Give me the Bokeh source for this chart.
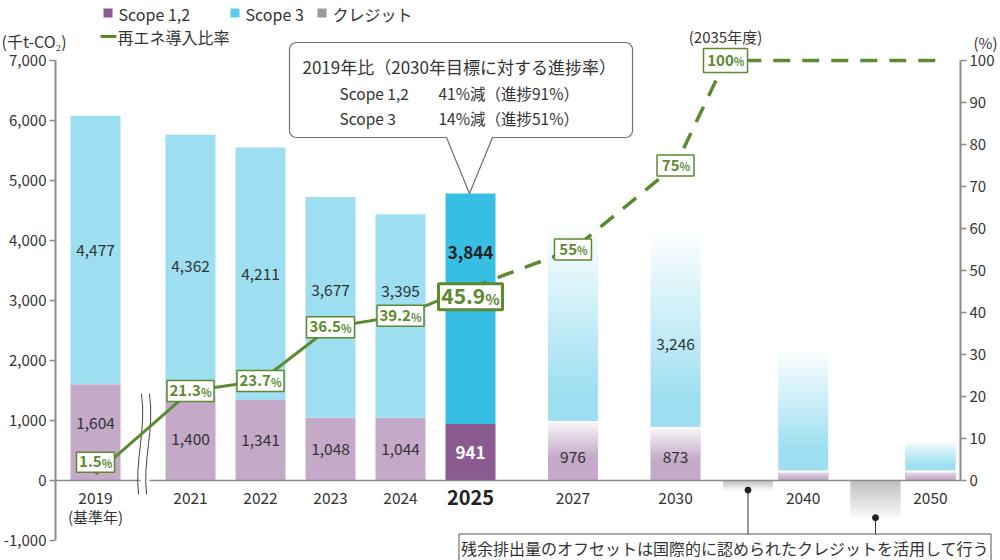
import math
from bokeh.plotting import figure
from bokeh.models import Range1d, LinearAxis, FixedTicker, NumeralTickFormatter, Label
from bokeh.core.properties import value
from bokeh.embed import file_html
from bokeh.resources import INLINE

FONT = "Noto Sans CJK JP"
TXT = "#333333"
GREEN = "#5b8a31"

# ---------------- data ----------------
years = ["2019", "2021", "2022", "2023", "2024", "2025", "2027", "2030", "2040", "2050"]
year_labels = ["2019", "2021", "2022", "2023", "2024", "2025", "2027", "2030", "2040", "2050"]
scope12 = [1604, 1400, 1341, 1048, 1044, 941, 976, 873, 150, 150]
scope3 = [4477, 4362, 4211, 3677, 3395, 3844, 3245, 3246, 1990, 450]
scope12_text = ["1,604", "1,400", "1,341", "1,048", "1,044", "941", "976", "873", "", ""]
scope3_text = ["4,477", "4,362", "4,211", "3,677", "3,395", "3,844", "", "3,246", "", ""]
projected = [False, False, False, False, False, False, True, True, True, True]

credit_slots = ["2030-2040", "2040-2050"]
credit = [-160, -620]

re_points = ["2019", "2021", "2022", "2023", "2024", "2025", "2027", "2030", "2035", "end"]
re_ratio = [1.5, 21.3, 23.7, 36.5, 39.2, 45.9, 55, 75, 100, 100]
re_text = ["1.5", "21.3", "23.7", "36.5", "39.2", "45.9", "55", "75", "100"]

left_ticks = [-1000, 0, 1000, 2000, 3000, 4000, 5000, 6000, 7000]
right_ticks = [0, 10, 20, 30, 40, 50, 60, 70, 80, 90, 100]

legend_items = ["Scope 1,2", "Scope 3", "クレジット"]
legend_colors = ["#8b5b93", "#5ccbea", "#9a9a9a"]
line_legend = "再エネ導入比率"
unit_left = "(千t-CO₂)"
unit_right = "(%)"
base_year_note = "(基準年)"
year_2035_note = "(2035年度)"
callout_title = "2019年比（2030年目標に対する進捗率）"
callout_rows = [["Scope 1,2", "41%減（進捗91%）"], ["Scope 3", "14%減（進捗51%）"]]
credit_note = "残余排出量のオフセットは国際的に認められたクレジットを活用して行う"

# ---------------- layout (picture pixel geometry) ----------------
def PX(px):
    return 6 + (px - 470) / 70.0

def PY(py):
    return (480 - py) / 0.06

def PP(py):
    return (480 - py) / 4.2

DX = 1 / 70.0
DY = 1 / 0.06
DP = 1 / 4.2

slot = {"2019": 0.643, "2021": 2, "2022": 3, "2023": 4, "2024": 5, "2025": 6,
        "2027": 7.464, "2030": 8.929, "2040": 10.753, "2050": 12.571,
        "2035": 9.643, "end": 12.714, "2030-2040": 9.964, "2040-2050": 11.786}
BW = 50 * DX

s12_color = ["#c4a9c8"] * 5 + ["#8a5a91"] + ["#c4a9c8"] * 4
s3_color = ["#9ddff0"] * 5 + ["#36bfe3"] + ["#9ddff0"] * 4
s3_ramp = {6: (0.85, 0.03), 7: (0.85, 0.03), 8: (0.8, 0.05), 9: (0.75, 0.2)}
s12_ramp = {6: (0.6, 0.12), 7: (0.6, 0.12), 8: (0.85, 0.4), 9: (0.85, 0.4)}
s3_dy = [0, 0, 0, -17, -25, -56, 0, 13, 0, 0]
s12_dy = [-9, 0, 0, 0, 0, 0, 6, 3, 0, 0]
box_w = [38, 47, 47, 48, 47, 64, 37, 37, 44]
box_h = [20, 21, 21, 21, 21, 26, 21, 21, 24]
box_dy = [-12, 0, 0, 0, 0, 9, 0, 0, 0]


def mix(hexc, a):
    h = hexc.lstrip("#")
    r, g, b = int(h[0:2], 16), int(h[2:4], 16), int(h[4:6], 16)
    return "#%02x%02x%02x" % (round(255 + (r - 255) * a), round(255 + (g - 255) * a), round(255 + (b - 255) * a))


def fade(xc, b, t, color, ramp, a0, down=False, n=48):
    L, R, B, T, C = [], [], [], [], []
    h = t - b
    eps = 0.6 * DY
    if not down:
        st = t - ramp * h
        L.append(xc - BW / 2); R.append(xc + BW / 2); B.append(b); T.append(st + eps); C.append(color)
        for i in range(n):
            y0 = st + (t - st) * i / n
            y1 = st + (t - st) * (i + 1) / n
            a = 1 - (1 - a0) * (i + 0.5) / n
            L.append(xc - BW / 2); R.append(xc + BW / 2); B.append(y0)
            T.append(y1 + (eps if i < n - 1 else 0)); C.append(mix(color, a))
    else:
        sb = t - (1 - ramp) * h
        L.append(xc - BW / 2); R.append(xc + BW / 2); B.append(sb - eps); T.append(t); C.append(color)
        for i in range(n):
            y1 = sb - (sb - b) * i / n
            y0 = sb - (sb - b) * (i + 1) / n
            a = 1 - (1 - a0) * (i + 0.5) / n
            L.append(xc - BW / 2); R.append(xc + BW / 2)
            B.append(y0 - (eps if i < n - 1 else 0)); T.append(y1); C.append(mix(color, a))
    return L, R, B, T, C


p = figure(width=1000, height=560,
           x_range=Range1d(PX(0), PX(1000)), y_range=Range1d(PY(560), PY(0)),
           x_axis_type=None, output_backend="svg", toolbar_location=None,
           min_border_left=0, min_border_right=0, min_border_top=0, min_border_bottom=0,
           background_fill_color="white", border_fill_color="white")
p.outline_line_color = None
p.grid.visible = False
p.extra_y_ranges = {"pct": Range1d(PP(560), PP(0))}

ya = p.yaxis[0]
ya.ticker = FixedTicker(ticks=left_ticks)
ya.formatter = NumeralTickFormatter(format="0,0")
ya.bounds = (left_ticks[0], left_ticks[-1])
ya.fixed_location = PX(55)
ra = LinearAxis(y_range_name="pct", ticker=FixedTicker(ticks=right_ticks),
                bounds=(right_ticks[0], right_ticks[-1]), fixed_location=PX(960))
p.add_layout(ra, "right")
for ax in (ya, ra):
    ax.axis_line_color = "#8c8c8c"
    ax.axis_line_width = 2
    ax.major_tick_line_color = "#8c8c8c"
    ax.major_tick_line_width = 1.5
    ax.major_tick_out = 6
    ax.major_tick_in = 0
    ax.minor_tick_line_color = None
    ax.major_label_text_font = FONT
    ax.major_label_text_font_size = "15px"
    ax.major_label_text_color = TXT
    ax.major_label_standoff = 3

# ---------------- bars ----------------
ql, qr, qb, qt, qc = [], [], [], [], []
sep_x0, sep_x1, sep_y = [], [], []
for i, y in enumerate(years):
    xc = slot[y]
    top12 = scope12[i]
    top3 = scope12[i] + scope3[i]
    if not projected[i]:
        ql += [xc - BW / 2] * 2; qr += [xc + BW / 2] * 2
        qb += [0, top12]; qt += [top12, top3]; qc += [s12_color[i], s3_color[i]]
    else:
        for (b, t, col, rp) in ((0, top12, s12_color[i], s12_ramp[i]), (top12, top3, s3_color[i], s3_ramp[i])):
            L, R, B, T, C = fade(xc, b, t, col, rp[0], rp[1])
            ql += L; qr += R; qb += B; qt += T; qc += C
        sep_x0.append(xc - BW / 2); sep_x1.append(xc + BW / 2); sep_y.append(top12)
for j, cs in enumerate(credit_slots):
    L, R, B, T, C = fade(slot[cs], credit[j], 0, "#bcbfbf", 1.0, 0.08, down=True)
    ql += L; qr += R; qb += B; qt += T; qc += C
p.quad(left=ql, right=qr, bottom=qb, top=qt, fill_color=qc, line_color=None)
p.segment(x0=sep_x0, y0=sep_y, x1=sep_x1, y1=sep_y, line_color="white", line_width=2)

# zero line
p.segment(x0=[PX(55)], y0=[0], x1=[PX(960)], y1=[0], line_color="#8c8c8c", line_width=1.5)

# axis break
p.quad(left=[PX(140)], right=[PX(149)], bottom=[PY(494)], top=[PY(392)], fill_color="white", line_color=None)
p.bezier(x0=[PX(141), PX(149)], y0=[PY(393)] * 2, x1=[PX(138), PX(146)], y1=[PY(494)] * 2,
         cx0=[PX(146), PX(154)], cy0=[PY(430)] * 2, cx1=[PX(134), PX(142)], cy1=[PY(460)] * 2,
         line_color="#444444", line_width=1)

# bar value labels
nx, ny, nt = [], [], []
for i, y in enumerate(years):
    if i == 5:
        continue
    if scope3_text[i]:
        nx.append(slot[y]); ny.append(scope12[i] + scope3[i] / 2 - s3_dy[i] * DY); nt.append(scope3_text[i])
    if scope12_text[i]:
        nx.append(slot[y]); ny.append(scope12[i] / 2 - s12_dy[i] * DY); nt.append(scope12_text[i])
p.text(x=nx, y=ny, text=nt, text_font=value(FONT), text_font_size="15.5px", text_color=TXT,
       text_align="center", text_baseline="middle")
p.text(x=[slot["2025"]], y=[scope12[5] + scope3[5] / 2 - s3_dy[5] * DY], text=[scope3_text[5]],
       text_font=value(FONT), text_font_size="17px", text_font_style="bold", text_color="#222222",
       text_align="center", text_baseline="middle")
p.text(x=[slot["2025"]], y=[scope12[5] / 2 - s12_dy[5] * DY], text=[scope12_text[5]],
       text_font=value(FONT), text_font_size="17px", text_font_style="bold", text_color="white",
       text_align="center", text_baseline="middle")

# year labels
reg = [i for i in range(len(years)) if years[i] != "2025"]
p.text(x=[slot[years[i]] for i in reg], y=[PY(497)] * len(reg), text=[year_labels[i] for i in reg],
       text_font=value(FONT), text_font_size="15.5px", text_color=TXT, text_align="center", text_baseline="middle")
p.text(x=[slot["2025"]], y=[PY(497)], text=[year_labels[5]], text_font=value(FONT), text_font_size="20px",
       text_font_style="bold", text_color="#222222", text_align="center", text_baseline="middle")
p.text(x=[slot["2019"]], y=[PY(516)], text=[base_year_note], text_font=value(FONT), text_font_size="15px",
       text_color=TXT, text_align="center", text_baseline="middle")

# credit callouts
cx = [slot[c] for c in credit_slots]
p.segment(x0=cx, y0=credit, x1=cx, y1=[PY(537)] * 2, line_color="#333333", line_width=1)
p.scatter(x=cx, y=credit, size=6, color="#222222")
p.add_layout(Label(x=PX(724.5), y=PY(547.5), text=credit_note, text_font=FONT, text_font_size="16px",
                   text_color=TXT, text_align="center", text_baseline="middle",
                   background_fill_color="white", border_line_color="#555555", border_line_width=1,
                   padding=2))

# renewable ratio line
rx = [slot[k] for k in re_points]
p.line(x=rx[:6], y=re_ratio[:6], y_range_name="pct", line_color=GREEN, line_width=3)
p.line(x=rx[5:], y=re_ratio[5:], y_range_name="pct", line_color=GREEN, line_width=3.5, line_dash="17 12")

bx = rx[:9]
by = [re_ratio[i] - box_dy[i] * DP for i in range(9)]
p.rect(x=bx, y=by, width=[w * DX for w in box_w], height=[h * DP for h in box_h],
       fill_color="white", line_color=GREEN, line_width=[3 if i == 5 else 1.5 for i in range(9)],
       y_range_name="pct")


def est_w(s, size):
    return sum(0.57 if ch.isdigit() else 0.28 for ch in s) * size


for i in range(9):
    big = (i == 5)
    ns = 21 if big else 15
    ps = 15 if big else 11
    wn = est_w(re_text[i], ns)
    wp = 0.82 * ps
    k = (wn - wp) / 2
    p.text(x=[bx[i] + k * DX], y=[by[i] + 0.5 * DP], text=[re_text[i]], text_font=value(FONT),
           text_font_size="%dpx" % ns, text_font_style="bold", text_color=GREEN, text_align="right",
           text_baseline="middle", y_range_name="pct")
    p.text(x=[bx[i] + k * DX], y=[by[i] + 0.5 * DP - 0.365 * (ns - ps) * DP], text=["%"], text_font=value(FONT),
           text_font_size="%dpx" % ps, text_font_style="bold", text_color=GREEN, text_align="left",
           text_baseline="middle", y_range_name="pct")

p.text(x=[slot["2035"]], y=[PY(36)], text=[year_2035_note], text_font=value(FONT), text_font_size="15px",
       text_color=TXT, text_align="center", text_baseline="middle")

# callout box
def callout(L, T, R, B, r, bl, br, tx, ty):
    pts = []
    def arc(cx_, cy_, a0, a1):
        for k in range(7):
            a = math.radians(a0 + (a1 - a0) * k / 6)
            pts.append((cx_ + r * math.cos(a), cy_ + r * math.sin(a)))
    arc(L + r, T + r, 180, 270)
    arc(R - r, T + r, 270, 360)
    arc(R - r, B - r, 0, 90)
    pts.extend([(br, B), (tx, ty), (bl, B)])
    arc(L + r, B - r, 90, 180)
    return pts

cp = callout(289, 42, 632, 137, 7, 446, 492, 469, 193)
p.patch(x=[PX(a) for a, _ in cp], y=[PY(b) for _, b in cp], fill_color="white", line_color="#707070", line_width=1.2)
p.text(x=[PX(302)], y=[PY(66)], text=[callout_title], text_font=value(FONT), text_font_size="17px",
       text_color=TXT, text_align="left", text_baseline="middle")
for r_i, row in enumerate(callout_rows):
    yy = PY(92 + 25 * r_i)
    p.text(x=[PX(339), PX(438)], y=[yy, yy], text=row, text_font=value(FONT), text_font_size="15.5px",
           text_color=TXT, text_align="left", text_baseline="middle")

# legend
lgx = [107.5, 234.5, 321.5]
p.scatter(x=[PX(a) for a in lgx], y=[PY(12.5)] * 3, marker="square", size=9, color=legend_colors, line_color=None)
p.text(x=[PX(a + 10.5) for a in lgx], y=[PY(13)] * 3, text=legend_items, text_font=value(FONT),
       text_font_size="16px", text_color=TXT, text_align="left", text_baseline="middle")
p.segment(x0=[PX(100)], y0=[PY(36)], x1=[PX(116)], y1=[PY(36)], line_color=GREEN, line_width=3)
p.text(x=[PX(117)], y=[PY(36.5)], text=[line_legend], text_font=value(FONT), text_font_size="16px",
       text_color=TXT, text_align="left", text_baseline="middle")

p.text(x=[PX(1)], y=[PY(40)], text=[unit_left], text_font=value(FONT), text_font_size="16px",
       text_color=TXT, text_align="left", text_baseline="middle")
p.text(x=[PX(997)], y=[PY(42)], text=[unit_right], text_font=value(FONT), text_font_size="15px",
       text_color=TXT, text_align="right", text_baseline="middle")

open("out.html", "w").write(file_html(p, INLINE))
